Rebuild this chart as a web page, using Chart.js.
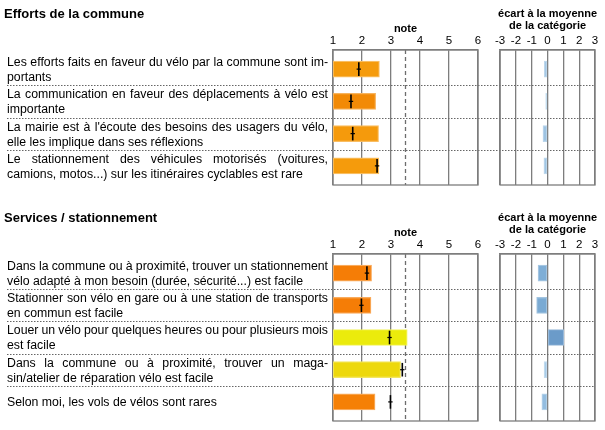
<!DOCTYPE html>
<html><head><meta charset="utf-8">
<script src="https://cdn.jsdelivr.net/npm/chart.js@4.4.1/dist/chart.umd.min.js"></script>
<style>
html,body{margin:0;padding:0;background:#fff;width:605px;height:430px;overflow:hidden;position:relative}
canvas{position:absolute}
</style>
</head><body>
<script>
// ---------- data ----------
const noteTicks = [1, 2, 3, 4, 5, 6];
const ecartTicks = [-3, -2, -1, 0, 1, 2, 3];
const noteReference = 3.5;
const noteTitle = 'note';
const ecartTitle = ['écart à la moyenne', 'de la catégorie'];

const section1Title = 'Efforts de la commune';
const section1Labels = [
  ['Les efforts faits en faveur du vélo par la commune sont im-', 'portants'],
  ['La communication en faveur des déplacements à vélo est', 'importante'],
  ["La mairie est à l'écoute des besoins des usagers du vélo,", 'elle les implique dans ses réflexions'],
  ['Le stationnement des véhicules motorisés (voitures,', 'camions, motos...) sur les itinéraires cyclables est rare']
];
const section1Notes = [2.6, 2.47, 2.57, 2.58];
const section1Marks = [1.89, 1.62, 1.68, 2.52];
const section1Ecarts = [-0.21, -0.12, -0.29, -0.23];

const section2Title = 'Services / stationnement';
const section2Labels = [
  ['Dans la commune ou à proximité, trouver un stationnement', 'vélo adapté à mon besoin (durée, sécurité...) est facile'],
  ['Stationner son vélo en gare ou à une station de transports', 'en commun est facile'],
  ['Louer un vélo pour quelques heures ou pour plusieurs mois', 'est facile'],
  ['Dans la commune ou à proximité, trouver un maga-', 'sin/atelier de réparation vélo est facile'],
  ['Selon moi, les vols de vélos sont rares']
];
const section2Notes = [2.33, 2.31, 3.56, 3.33, 2.45];
const section2Marks = [2.17, 1.98, 2.95, 3.39, 2.98];
const section2Ecarts = [-0.6, -0.69, 1.03, -0.22, -0.36];

// ---------- styles ----------
const section1NoteColors = ['#F59B0C', '#F28A06', '#F59A0C', '#F59B0C'];
const section1EcartColors = ['#A0C6E4', '#B0D2EA', '#9DC3E2', '#A0C6E4'];
const section2NoteColors = ['#F57D06', '#F57D06', '#EBEB0C', '#EDD80C', '#F58006'];
const section2EcartColors = ['#7FAED6', '#7AAAD3', '#6B9BC9', '#A8CCE8', '#93BDE0'];

const FONT = "'Liberation Sans', Arial, Helvetica, sans-serif";
const GRID = '#7d7d7d';
Chart.defaults.font.family = FONT;
Chart.defaults.color = '#000';

function lighten(hex, f) {
  const n = parseInt(hex.slice(1), 16);
  const r = (n >> 16) & 255, g = (n >> 8) & 255, b = n & 255;
  const m = c => Math.round(c + (255 - c) * f);
  return `rgb(${m(r)},${m(g)},${m(b)})`;
}

function drawSeparators(chart, x0, x1, n) {
  const ctx = chart.ctx, y = chart.scales.y;
  ctx.save();
  ctx.strokeStyle = '#666';
  ctx.lineWidth = 1;
  ctx.setLineDash([1.5, 1.5]);
  for (let i = 0; i < n - 1; i++) {
    const py = Math.round(y.getPixelForValue(i + 0.5)) + 0.5;
    ctx.beginPath(); ctx.moveTo(x0, py); ctx.lineTo(x1, py); ctx.stroke();
  }
  ctx.restore();
}
function drawBox(chart) {
  const ctx = chart.ctx, a = chart.chartArea;
  ctx.save();
  ctx.strokeStyle = GRID; ctx.lineWidth = 1.3;
  ctx.strokeRect(a.left, a.top, a.right - a.left, a.bottom - a.top);
  ctx.restore();
}
function fillJustified(ctx, text, x, y, width) {
  const words = text.split(' ');
  if (words.length < 2) { ctx.fillText(text, x, y); return; }
  const natural = ctx.measureText(text).width;
  const extra = (width - natural) / (words.length - 1);
  if ('wordSpacing' in ctx) {
    ctx.wordSpacing = extra + 'px';
    ctx.fillText(text, x, y);
    ctx.wordSpacing = '0px';
    return;
  }
  const space = ctx.measureText(' ').width;
  let cx = x;
  words.forEach(w => { ctx.fillText(w, cx, y); cx += ctx.measureText(w).width + space + extra; });
}

function makeSection(s) {
  const n = s.labels.length;
  const pad = 0.093;
  const axisH = s.plotTop - s.top;
  const h = s.plotBottom - s.top + 4;

  const yScale = {
    type: 'linear', display: false, reverse: true, offset: false,
    min: -0.5 - pad, max: n - 0.5 + pad,
    grid: { offset: false }
  };
  const markData = s.marks.map((v, i) => ({ x: v, y: i }));

  // ----- note chart -----
  const c1 = document.createElement('canvas');
  c1.width = 493; c1.height = h;
  c1.style.left = '0px'; c1.style.top = s.top + 'px';
  document.body.appendChild(c1);
  new Chart(c1, {
    type: 'bar',
    data: {
      datasets: [
        { type: 'line', indexAxis: 'y', order: 0, data: markData, showLine: false,
          pointStyle: 'line', pointRotation: 90, pointRadius: 6.8, pointBorderWidth: 1.6,
          pointBorderColor: '#000', pointBackgroundColor: '#000', pointHoverRadius: 6.8 },
        { type: 'line', indexAxis: 'y', order: 0, data: markData, showLine: false,
          pointStyle: 'line', pointRotation: 0, pointRadius: 2.2, pointBorderWidth: 1.2,
          pointBorderColor: '#000', pointBackgroundColor: '#000', pointHoverRadius: 2.2 },
        { type: 'bar', indexAxis: 'y', order: 1,
          data: s.notes.map((v, i) => ({ x: [noteTicks[0], v], y: i })),
          backgroundColor: s.noteColors, borderColor: s.noteColors.map(c => lighten(c, 0.35)),
          borderWidth: 1.2, borderSkipped: false, barThickness: 16 }
      ]
    },
    options: {
      indexAxis: 'y', responsive: false, animation: false, events: [],
      layout: { autoPadding: false, padding: { left: 333, right: 15, top: 0, bottom: 4 } },
      plugins: { legend: { display: false }, tooltip: { enabled: false } },
      scales: {
        x: {
          type: 'linear', position: 'top', min: noteTicks[0], max: noteTicks[noteTicks.length - 1],
          afterFit: sc => { sc.height = axisH; },
          afterBuildTicks: sc => { sc.ticks = noteTicks.map(v => ({ value: v })); },
          ticks: { font: { size: 11.5 }, padding: 2, color: '#000', maxRotation: 0 },
          grid: { color: GRID, lineWidth: 1.3, drawTicks: false },
          border: { display: true, color: GRID, width: 1.3 }
        },
        y: yScale
      }
    },
    plugins: [{
      id: 'deco1',
      beforeDatasetsDraw(chart) {
        const ctx = chart.ctx, a = chart.chartArea, x = chart.scales.x;
        drawSeparators(chart, 7, chart.width, n);
        ctx.save();
        ctx.strokeStyle = '#6d6d6d'; ctx.lineWidth = 1.3; ctx.setLineDash([4, 3]);
        const px = x.getPixelForValue(noteReference);
        ctx.beginPath(); ctx.moveTo(px, a.top); ctx.lineTo(px, a.bottom); ctx.stroke();
        ctx.restore();
        drawBox(chart);
      },
      afterDraw(chart) {
        const ctx = chart.ctx, a = chart.chartArea, y = chart.scales.y;
        ctx.save();
        ctx.fillStyle = '#000';
        ctx.textBaseline = 'alphabetic';
        ctx.font = 'bold 13px ' + FONT;
        ctx.textAlign = 'left';
        ctx.fillText(s.title, 4, a.top - 32);
        ctx.font = 'bold 11px ' + FONT;
        ctx.textAlign = 'center';
        ctx.fillText(noteTitle, (a.left + a.right) / 2, a.top - 18);
        ctx.textAlign = 'left';
        ctx.font = '12.3px ' + FONT;
        s.labels.forEach((lines, i) => {
          const c = y.getPixelForValue(i);
          lines.forEach((line, k) => {
            const by = c + (k - (lines.length - 1) / 2) * 15 + 4.4;
            if (k < lines.length - 1) fillJustified(ctx, line, 7, by, 321);
            else ctx.fillText(line, 7, by);
          });
        });
        ctx.restore();
      }
    }]
  });

  // ----- ecart chart -----
  const c2 = document.createElement('canvas');
  c2.width = 112; c2.height = h;
  c2.style.left = '493px'; c2.style.top = s.top + 'px';
  document.body.appendChild(c2);
  new Chart(c2, {
    type: 'bar',
    data: {
      datasets: [{
        type: 'bar', indexAxis: 'y',
        data: s.ecarts.map((v, i) => ({ x: v, y: i })),
        backgroundColor: s.ecartColors, borderColor: s.ecartColors.map(c => lighten(c, 0.3)),
        borderWidth: 1.2, borderSkipped: false, barThickness: 16
      }]
    },
    options: {
      indexAxis: 'y', responsive: false, animation: false, events: [],
      layout: { autoPadding: false, padding: { left: 6, right: 10, top: 0, bottom: 4 } },
      plugins: { legend: { display: false }, tooltip: { enabled: false } },
      scales: {
        x: {
          type: 'linear', position: 'top', min: ecartTicks[0], max: ecartTicks[ecartTicks.length - 1],
          afterFit: sc => { sc.height = axisH; },
          afterBuildTicks: sc => { sc.ticks = ecartTicks.map(v => ({ value: v })); },
          ticks: { font: { size: 11.5 }, padding: 2, color: '#000', maxRotation: 0 },
          grid: { color: GRID, lineWidth: 1.3, drawTicks: false },
          border: { display: true, color: GRID, width: 1.3 }
        },
        y: yScale
      }
    },
    plugins: [{
      id: 'deco2',
      beforeDatasetsDraw(chart) {
        drawSeparators(chart, 0, chart.chartArea.right, n);
        drawBox(chart);
      },
      afterDraw(chart) {
        const ctx = chart.ctx, a = chart.chartArea;
        ctx.save();
        ctx.fillStyle = '#000';
        ctx.font = 'bold 11px ' + FONT;
        ctx.textAlign = 'center';
        ctx.textBaseline = 'alphabetic';
        const cx = (a.left + a.right) / 2;
        ctx.fillText(ecartTitle[0], cx, a.top - 33);
        ctx.fillText(ecartTitle[1], cx, a.top - 21);
        ctx.restore();
      }
    }]
  });
}

makeSection({ top: 0, plotTop: 50, plotBottom: 185, title: section1Title, labels: section1Labels,
  notes: section1Notes, marks: section1Marks, ecarts: section1Ecarts,
  noteColors: section1NoteColors, ecartColors: section1EcartColors });
makeSection({ top: 204, plotTop: 254, plotBottom: 421, title: section2Title, labels: section2Labels,
  notes: section2Notes, marks: section2Marks, ecarts: section2Ecarts,
  noteColors: section2NoteColors, ecartColors: section2EcartColors });
</script>
</body></html>
